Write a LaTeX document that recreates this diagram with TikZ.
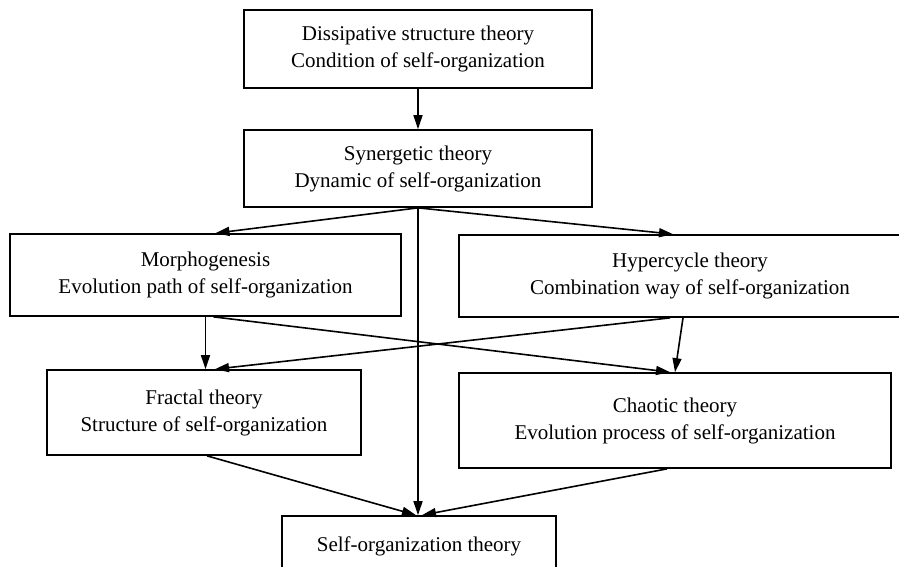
\documentclass[tikz,border=0pt]{standalone}
\usepackage{fontspec}
\setmainfont{Liberation Serif}
\usetikzlibrary{arrows.meta}
\begin{document}
\begin{tikzpicture}[x=1pt,y=-1pt,
  box/.style={draw=black, line width=1.7pt, align=center, inner sep=0pt,
    font=\fontsize{21}{27}\selectfont},
  arr/.style={line width=1.6pt, -{Triangle[length=14pt,width=9pt]}}]
\useasboundingbox (0,0) rectangle (899,566);
\node[box, minimum width=348pt, minimum height=78pt] (b1) at (418,49) {Dissipative structure theory\\Condition of self-organization};
\node[box, minimum width=348pt, minimum height=77pt] (b2) at (418,168.5) {Synergetic theory\\Dynamic of self-organization};
\node[box, minimum width=391pt, minimum height=82pt] (b3) at (205.5,275) {Morphogenesis\\Evolution path of self-organization};
\node[box, minimum width=462pt, minimum height=82pt] (b4) at (690,276) {Hypercycle theory\\Combination way of self-organization};
\node[box, minimum width=314pt, minimum height=85pt] (b5) at (204,412.5) {Fractal theory\\Structure of self-organization};
\node[box, minimum width=432pt, minimum height=95pt] (b6) at (675,420.5) {Chaotic theory\\Evolution process of self-organization};
\node[box, minimum width=274pt, minimum height=60pt] (b7) at (419,546) {Self-organization theory};

\draw[arr] (b1.south) -- (b2.north);
\draw[arr] (b2.south) -- ([xshift=10pt]b3.north);
\draw[arr] (b2.south) -- ([xshift=-17pt]b4.north);
\draw[arr] (b2.south) -- (b2.south |- b7.north);
\draw[arr] (b3.south) -- (b3.south |- b5.north);
\draw[arr] ([xshift=8pt]b3.south) -- ([xshift=-5pt]b6.north);
\draw[arr] ([xshift=-20pt]b4.south) -- ([xshift=11pt]b5.north);
\draw[arr] ([xshift=-7pt]b4.south) -- (b6.north);
\draw[arr] ([xshift=3pt]b5.south) -- ([xshift=-3pt]b7.north);
\draw[arr] ([xshift=-8pt]b6.south) -- ([xshift=3pt]b7.north);
\end{tikzpicture}
\end{document}
